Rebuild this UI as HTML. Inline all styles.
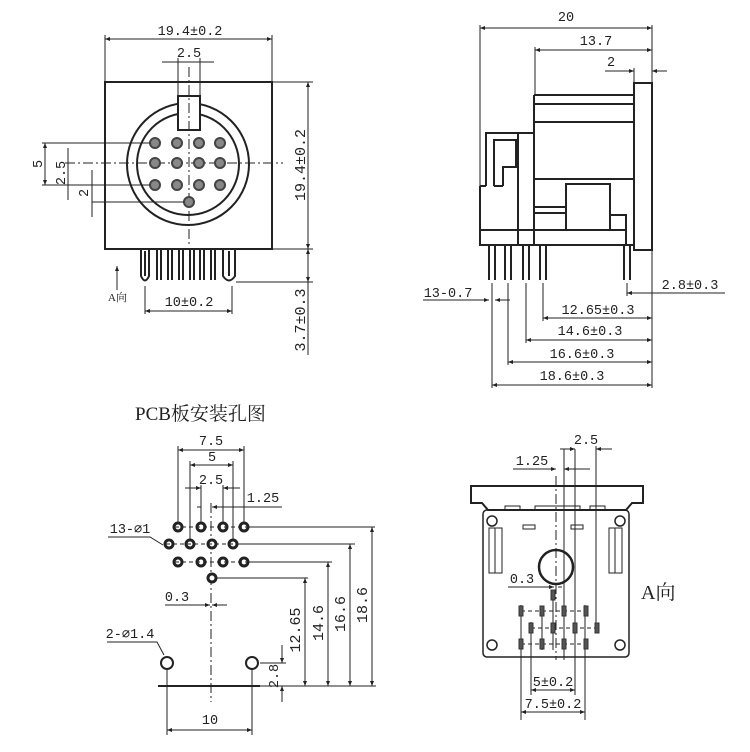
<!DOCTYPE html>
<html><head><meta charset="utf-8"><style>
html,body{margin:0;padding:0;background:#fff;}
svg{display:block;}
text{font-family:"Liberation Mono","Noto Sans CJK SC",monospace;font-size:13.5px;fill:#222;}
.t{font-family:"Liberation Serif","Noto Serif CJK SC","Noto Sans CJK SC",serif;}
</style></head><body>
<svg width="750" height="752" viewBox="0 0 750 752" xmlns="http://www.w3.org/2000/svg">
<defs>
<marker id="a" viewBox="0 0 10 10" refX="10" refY="5" markerWidth="7" markerHeight="5" orient="auto-start-reverse" markerUnits="userSpaceOnUse"><path d="M0,1 L10,5 L0,9 z" fill="#222"/></marker>
</defs>
<g stroke="#222" fill="none" stroke-width="1">

<!-- ===== TOP LEFT VIEW ===== -->
<rect x="105" y="82" width="167" height="167" stroke-width="2"/>
<line x1="105" y1="35" x2="105" y2="82"/><line x1="272" y1="35" x2="272" y2="82"/>
<line x1="105" y1="39" x2="272" y2="39" marker-start="url(#a)" marker-end="url(#a)"/>
<line x1="162" y1="62" x2="214" y2="62"/>
<line x1="178" y1="58" x2="178" y2="96"/><line x1="200" y1="58" x2="200" y2="96"/>
<circle cx="188" cy="164" r="61" stroke-width="2"/>
<circle cx="188" cy="164" r="51" stroke-width="2"/>
<rect x="178" y="96" width="22" height="34" fill="#fff" stroke-width="2"/>
<line x1="189" y1="67" x2="189" y2="247" stroke-dasharray="10,3,2,3"/>
<line x1="65" y1="163" x2="283" y2="163" stroke-dasharray="10,3,2,3"/>
<g stroke="#444" stroke-width="2" fill="#888">
<circle cx="155" cy="143" r="5"/><circle cx="177" cy="143" r="5"/><circle cx="199" cy="143" r="5"/><circle cx="220" cy="143" r="5"/>
<circle cx="155" cy="163" r="5"/><circle cx="177" cy="163" r="5"/><circle cx="199" cy="163" r="5"/><circle cx="220" cy="163" r="5"/>
<circle cx="155" cy="185" r="5"/><circle cx="177" cy="185" r="5"/><circle cx="199" cy="185" r="5"/><circle cx="220" cy="185" r="5"/>
<circle cx="189" cy="202" r="5"/>
</g>
<line x1="42" y1="143" x2="150" y2="143"/><line x1="42" y1="185" x2="150" y2="185"/>
<line x1="92" y1="202" x2="184" y2="202"/>
<line x1="45" y1="143" x2="45" y2="185" marker-start="url(#a)" marker-end="url(#a)"/>
<line x1="68" y1="148" x2="68" y2="200"/>
<line x1="92" y1="170" x2="92" y2="217"/>
<!-- pins -->
<path d="M141,249 V276 Q145,285 149,276 V249 M145,251 V276" stroke-width="2"/>
<path d="M157,249 V280 M161,249 V280 M168,249 V280 M172,249 V280 M179,249 V280 M183,249 V280 M190,249 V280 M194,249 V280 M200,249 V280 M204,249 V280 M211,249 V280 M215,249 V280" stroke-width="2"/>
<path d="M223,249 V276 Q229,285 235,276 V249 M229,251 V276" stroke-width="2"/>
<line x1="117" y1="290" x2="117" y2="266" marker-end="url(#a)"/>
<line x1="145" y1="286" x2="145" y2="314"/><line x1="232" y1="286" x2="232" y2="314"/>
<line x1="145" y1="311" x2="232" y2="311" marker-start="url(#a)" marker-end="url(#a)"/>
<line x1="272" y1="82" x2="313" y2="82"/><line x1="272" y1="249" x2="313" y2="249"/>
<line x1="236" y1="282" x2="313" y2="282"/>
<line x1="308" y1="82" x2="308" y2="249" marker-start="url(#a)" marker-end="url(#a)"/>
<line x1="308" y1="249" x2="308" y2="282" marker-start="url(#a)" marker-end="url(#a)"/>
<line x1="308" y1="282" x2="308" y2="355"/>

<!-- ===== TOP RIGHT VIEW ===== -->
<line x1="480" y1="25" x2="480" y2="186"/><line x1="652" y1="25" x2="652" y2="83"/>
<line x1="480" y1="28" x2="652" y2="28" marker-start="url(#a)" marker-end="url(#a)"/>
<line x1="535" y1="47" x2="535" y2="95"/>
<line x1="535" y1="50" x2="652" y2="50" marker-start="url(#a)" marker-end="url(#a)"/>
<line x1="605" y1="71" x2="634" y2="71" marker-end="url(#a)"/>
<line x1="652" y1="71" x2="667" y2="71" marker-start="url(#a)"/>
<line x1="634" y1="68" x2="634" y2="83"/>
<g stroke-width="2">
<rect x="634" y="83" width="18" height="167"/>
<path d="M534,95 H634 M534,104 H634 M534,122 H634 M534,179 H634 M534,95 V245"/>
<path d="M486,186 V133 H534 M518,133 V245"/>
<path d="M494,186 V140 H516 V167 H503 V186"/>
<path d="M480,186 H486 M494,186 H503 M480,186 V245 H634 M480,230 H626"/>
<path d="M566,230 V184 H610 V230 M534,207 H566 M534,213 H566 M610,215 H626 V245"/>
<path d="M489,245 V280 M495,245 V280 M505,245 V280 M511,245 V280 M523,245 V280 M529,245 V280 M540,245 V280 M546,245 V280 M624,245 V280 M630,245 V280"/>
</g>
<line x1="492" y1="283" x2="492" y2="388"/><line x1="508" y1="283" x2="508" y2="365"/>
<line x1="526" y1="283" x2="526" y2="343"/><line x1="543" y1="283" x2="543" y2="321"/>
<line x1="627" y1="283" x2="627" y2="296"/><line x1="652" y1="250" x2="652" y2="388"/>
<line x1="423" y1="300" x2="489" y2="300" marker-end="url(#a)"/>
<line x1="495" y1="300" x2="510" y2="300" marker-start="url(#a)"/>
<line x1="627" y1="293" x2="725" y2="293" marker-start="url(#a)"/>
<line x1="543" y1="318" x2="652" y2="318" marker-start="url(#a)" marker-end="url(#a)"/>
<line x1="526" y1="340" x2="652" y2="340" marker-start="url(#a)" marker-end="url(#a)"/>
<line x1="508" y1="362" x2="652" y2="362" marker-start="url(#a)" marker-end="url(#a)"/>
<line x1="492" y1="385" x2="652" y2="385" marker-start="url(#a)" marker-end="url(#a)"/>

<!-- ===== BOTTOM LEFT PCB ===== -->
<line x1="178" y1="446" x2="178" y2="522"/><line x1="244" y1="446" x2="244" y2="522"/>
<line x1="178" y1="450" x2="244" y2="450" marker-start="url(#a)" marker-end="url(#a)"/>
<line x1="190" y1="461" x2="190" y2="539"/><line x1="233" y1="461" x2="233" y2="539"/>
<line x1="190" y1="465" x2="233" y2="465" marker-start="url(#a)" marker-end="url(#a)"/>
<line x1="201" y1="485" x2="201" y2="522"/><line x1="223" y1="485" x2="223" y2="522"/>
<line x1="185" y1="488" x2="201" y2="488" marker-end="url(#a)"/>
<line x1="223" y1="488" x2="240" y2="488" marker-start="url(#a)"/>
<line x1="197" y1="507" x2="201" y2="507"/>
<line x1="212" y1="507" x2="282" y2="507" marker-start="url(#a)"/>
<line x1="211" y1="503" x2="211" y2="702" stroke-dasharray="10,3,2,3"/>
<g stroke-width="3" fill="#fff">
<circle cx="178" cy="527" r="4"/><circle cx="201" cy="527" r="4"/><circle cx="223" cy="527" r="4"/><circle cx="244" cy="527" r="4"/>
<circle cx="169" cy="544" r="4"/><circle cx="190" cy="544" r="4"/><circle cx="212" cy="544" r="4"/><circle cx="233" cy="544" r="4"/>
<circle cx="178" cy="562" r="4"/><circle cx="201" cy="562" r="4"/><circle cx="223" cy="562" r="4"/><circle cx="244" cy="562" r="4"/>
<circle cx="212" cy="578" r="4"/>
</g>
<path d="M175,527 H250 M166,544 H238 M175,562 H250" stroke-dasharray="4,3"/>
<circle cx="167" cy="663" r="6" stroke-width="2"/><circle cx="252" cy="663" r="6" stroke-width="2"/>
<line x1="158" y1="686" x2="260" y2="686" stroke-width="2"/>
<line x1="249" y1="527" x2="375" y2="527"/><line x1="238" y1="544" x2="355" y2="544"/>
<line x1="249" y1="562" x2="332" y2="562"/><line x1="217" y1="578" x2="308" y2="578"/>
<line x1="260" y1="686" x2="376" y2="686"/>
<line x1="372" y1="527" x2="372" y2="686" marker-start="url(#a)" marker-end="url(#a)"/>
<line x1="350" y1="544" x2="350" y2="686" marker-start="url(#a)" marker-end="url(#a)"/>
<line x1="328" y1="562" x2="328" y2="686" marker-start="url(#a)" marker-end="url(#a)"/>
<line x1="305" y1="578" x2="305" y2="686" marker-start="url(#a)" marker-end="url(#a)"/>
<line x1="260" y1="663" x2="286" y2="663"/>
<line x1="282" y1="645" x2="282" y2="663" marker-end="url(#a)"/>
<line x1="282" y1="702" x2="282" y2="686" marker-end="url(#a)"/>
<path d="M108,537 H150 L163,545"/>
<path d="M107,642 H157 L164,655"/>
<line x1="165" y1="605" x2="210" y2="605" marker-end="url(#a)"/>
<line x1="212" y1="605" x2="227" y2="605" marker-start="url(#a)"/>
<line x1="167" y1="670" x2="167" y2="735"/><line x1="252" y1="670" x2="252" y2="735"/>
<line x1="167" y1="730" x2="252" y2="730" marker-start="url(#a)" marker-end="url(#a)"/>

<!-- ===== BOTTOM RIGHT A VIEW ===== -->
<path d="M471,486 H643 V503 H632 L626,510 H488 L482,503 H471 Z" stroke-width="2"/>
<rect x="483" y="510" width="146" height="147" rx="4" stroke-width="1.5"/>
<path d="M505,510 V506 H520 V510 M535,510 V506 H580 V510 M590,510 V506 H605 V510"/>
<circle cx="492" cy="521" r="5" stroke-width="1.5"/><circle cx="620" cy="521" r="5" stroke-width="1.5"/>
<circle cx="492" cy="645" r="5" stroke-width="1.5"/><circle cx="620" cy="645" r="5" stroke-width="1.5"/>
<rect x="489" y="528" width="13" height="45"/><line x1="495" y1="528" x2="495" y2="573"/>
<rect x="609" y="528" width="13" height="45"/><line x1="615" y1="528" x2="615" y2="573"/>
<rect x="523" y="525" width="12" height="4"/><rect x="571" y="525" width="12" height="4"/>
<circle cx="556" cy="567" r="17" stroke-width="2.5"/>
<line x1="556" y1="476" x2="556" y2="660" stroke-dasharray="10,3,2,3"/>
<line x1="564" y1="449" x2="564" y2="660"/><line x1="575" y1="449" x2="575" y2="695"/>
<line x1="596" y1="446" x2="596" y2="630"/>
<line x1="560" y1="449" x2="575" y2="449" marker-end="url(#a)"/>
<line x1="596" y1="449" x2="612" y2="449" marker-start="url(#a)"/>
<line x1="513" y1="469" x2="556" y2="469" marker-end="url(#a)"/>
<line x1="564" y1="469" x2="590" y2="469" marker-start="url(#a)"/>
<line x1="508" y1="587" x2="554" y2="587" marker-end="url(#a)"/>
<line x1="558" y1="587" x2="562" y2="587"/>
<path d="M521,605 V720 M531,622 V695 M585,605 V720 M542,608 V650 M553,600 V650"/>
<path d="M521,611 H586 M531,628 H597 M521,644 H586" stroke-dasharray="4,3"/>
<g fill="#555" stroke="#333">
<rect x="519" y="606" width="4" height="10"/><rect x="540" y="606" width="4" height="10"/><rect x="562" y="606" width="4" height="10"/><rect x="584" y="606" width="4" height="10"/>
<rect x="529" y="623" width="4" height="10"/><rect x="551" y="623" width="4" height="10"/><rect x="573" y="623" width="4" height="10"/><rect x="595" y="623" width="4" height="10"/>
<rect x="519" y="639" width="4" height="10"/><rect x="540" y="639" width="4" height="10"/><rect x="562" y="639" width="4" height="10"/><rect x="584" y="639" width="4" height="10"/>
<rect x="551" y="590" width="4" height="10"/>
</g>
<line x1="531" y1="690" x2="575" y2="690" marker-start="url(#a)" marker-end="url(#a)"/>
<line x1="521" y1="712" x2="585" y2="712" marker-start="url(#a)" marker-end="url(#a)"/>
</g>

<!-- ===== TEXT ===== -->
<g>
<text x="190" y="35" text-anchor="middle">19.4±0.2</text>
<text x="189" y="57" text-anchor="middle">2.5</text>
<text transform="translate(42,164) rotate(-90)" text-anchor="middle">5</text>
<text transform="translate(65,173) rotate(-90)" text-anchor="middle">2.5</text>
<text transform="translate(88,193) rotate(-90)" text-anchor="middle">2</text>
<text transform="translate(305,165) rotate(-90)" text-anchor="middle" style="font-size:15px">19.4±0.2</text>
<text transform="translate(305,320) rotate(-90)" text-anchor="middle" style="font-size:15px">3.7±0.3</text>
<text class="t" x="108" y="301" style="font-size:11px">A向</text>
<text x="189" y="306" text-anchor="middle">10±0.2</text>

<text x="566" y="21" text-anchor="middle">20</text>
<text x="596" y="45" text-anchor="middle">13.7</text>
<text x="611" y="66" text-anchor="middle">2</text>
<text x="448" y="297" text-anchor="middle">13-0.7</text>
<text x="690" y="289" text-anchor="middle">2.8±0.3</text>
<text x="598" y="314" text-anchor="middle">12.65±0.3</text>
<text x="590" y="335" text-anchor="middle">14.6±0.3</text>
<text x="582" y="358" text-anchor="middle">16.6±0.3</text>
<text x="572" y="380" text-anchor="middle">18.6±0.3</text>

<text class="t" x="135" y="420" style="font-size:19px">PCB板安装孔图</text>
<text x="211" y="445" text-anchor="middle">7.5</text>
<text x="212" y="461" text-anchor="middle">5</text>
<text x="211" y="484" text-anchor="middle">2.5</text>
<text x="263" y="502" text-anchor="middle">1.25</text>
<text x="130" y="533" text-anchor="middle">13-⌀1</text>
<text x="177" y="601" text-anchor="middle">0.3</text>
<text x="130" y="638" text-anchor="middle">2-⌀1.4</text>
<text transform="translate(278,676) rotate(-90)" text-anchor="middle">2.8</text>
<text transform="translate(300,630) rotate(-90)" text-anchor="middle" style="font-size:15px">12.65</text>
<text transform="translate(323,623) rotate(-90)" text-anchor="middle" style="font-size:15px">14.6</text>
<text transform="translate(345,614) rotate(-90)" text-anchor="middle" style="font-size:15px">16.6</text>
<text transform="translate(367,605) rotate(-90)" text-anchor="middle" style="font-size:15px">18.6</text>
<text x="210" y="724" text-anchor="middle">10</text>

<text x="586" y="444" text-anchor="middle">2.5</text>
<text x="532" y="465" text-anchor="middle">1.25</text>
<text x="522" y="583" text-anchor="middle">0.3</text>
<text class="t" x="641" y="599" style="font-size:20px">A向</text>
<text x="553" y="686" text-anchor="middle">5±0.2</text>
<text x="553" y="708" text-anchor="middle">7.5±0.2</text>
</g>
</svg>
</body></html>
